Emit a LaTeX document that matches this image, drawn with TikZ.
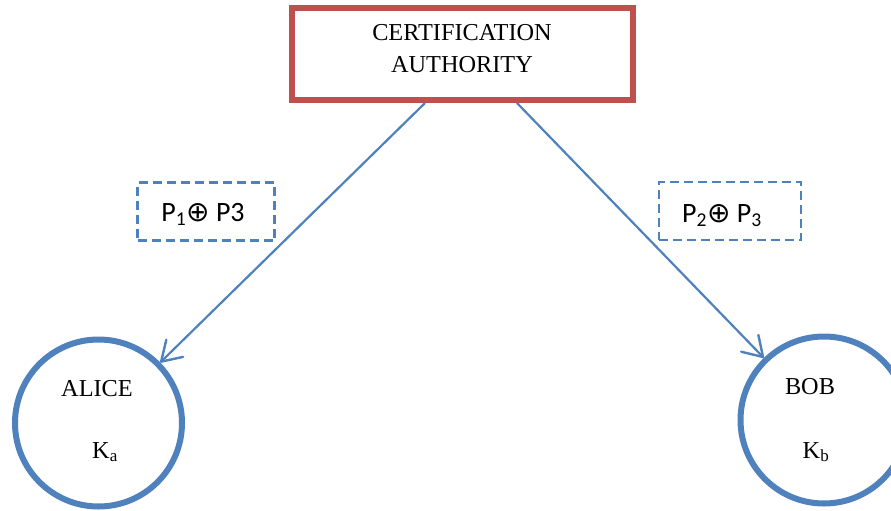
\documentclass[tikz,border=0pt]{standalone}
\usepackage{fontspec}
\setmainfont{Liberation Serif}
\newfontfamily\carl{Carlito}
\newfontfamily\dvs{DejaVu Sans}
\usetikzlibrary{arrows.meta}
\definecolor{cablue}{HTML}{4F81BD}
\definecolor{cared}{HTML}{C0504D}
\newcommand{\opl}{{\dvs\fontsize{28}{28}\selectfont ⊕}}
\begin{document}
\begin{tikzpicture}[x=1pt,y=-1pt,
  serif/.style={font=\fontsize{24.3}{32}\selectfont, inner sep=0pt},
  sans/.style={font=\carl\fontsize{28}{32}\selectfont, inner sep=0pt},
  party/.style={circle, draw=cablue, line width=6pt, minimum size=167pt, inner sep=0pt},
  dbox/.style={draw=cablue, line width=2.2pt, dash pattern=on 9pt off 5pt, minimum width=137pt, minimum height=58pt},
  conn/.style={draw=cablue, line width=2.2pt, -{Straight Barb[length=19pt,width=24pt,line width=2.4pt,round]}}]
\useasboundingbox (0,0) rectangle (891,511);
\clip (0,0) rectangle (891,511);
\node[draw=cared, line width=6pt, fill=white, minimum width=341pt, minimum height=92pt, inner sep=0pt] (ca) at (462.5,54) {};
\node[serif, align=center] (catext) at (462,49) {CERTIFICATION\\AUTHORITY};
\node[party] (alice) at (98.5,423) {};
\node[party] (bob) at (824,420) {};
\node[serif, anchor=base] (alicet) at (97,396) {ALICE};
\node[serif, anchor=base] (ka) at (105,458) {K\textsubscript{a}};
\node[serif, anchor=base] (bobt) at (810,394) {BOB};
\node[serif, anchor=base] (kb) at (816,458) {K\textsubscript{b}};
\node[dbox] (d1) at (206,211.5) {};
\node[dbox, minimum width=142pt] (d2) at (730,211) {};
\node[sans, anchor=base] (d1t) at (203,221) {P\textsubscript{1}\opl\ P3};
\node[sans, anchor=base] (d2t) at (722,222) {P\textsubscript{2}\opl\ P\textsubscript{3}};
\coordinate (s1) at (425,103);
\coordinate (s2) at (517,103);
\draw[conn] (s1) -- (alice);
\draw[conn] (s2) -- (bob);
\end{tikzpicture}
\end{document}
